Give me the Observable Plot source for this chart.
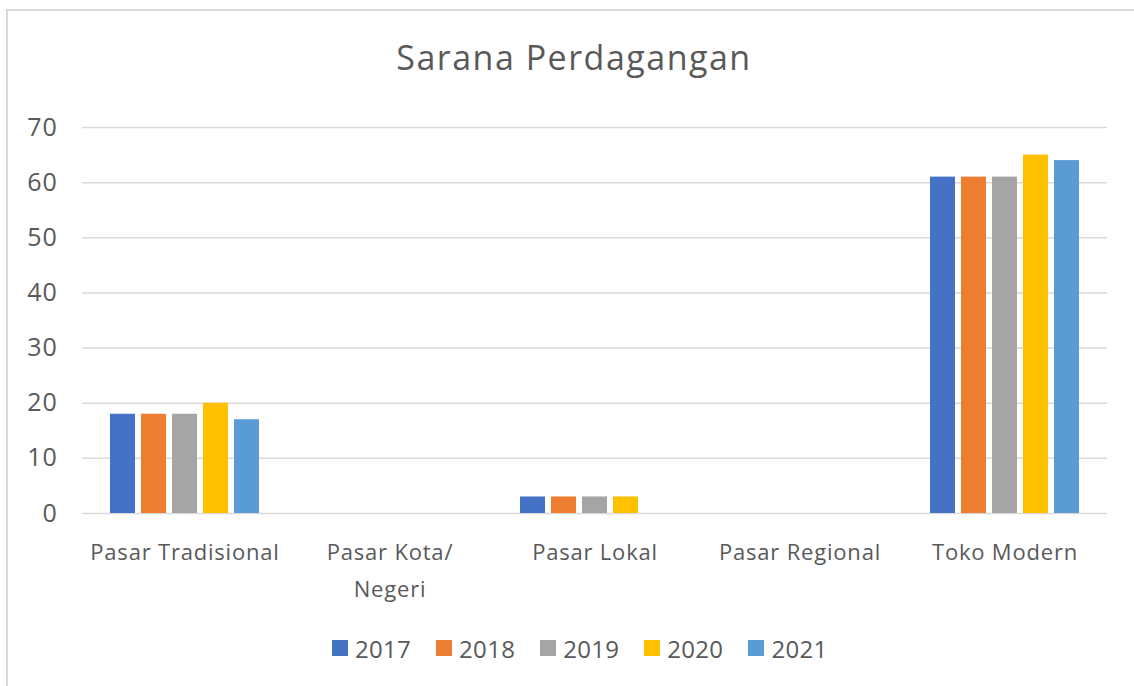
<!DOCTYPE html>
<html>
<head>
<meta charset="utf-8">
<script src="https://cdn.jsdelivr.net/npm/d3@7"></script>
<script src="https://cdn.jsdelivr.net/npm/@observablehq/plot@0.6"></script>
<style>
  html, body { margin: 0; padding: 0; background: #fff; overflow: hidden; }
  body { width: 1134px; height: 686px; position: relative; font-family: "Open Sans", sans-serif; color: #595959; }
  #frame { position: absolute; left: 6px; top: 9px; width: 1200px; height: 800px; border: 2px solid #d9d9d9; box-sizing: border-box; }
  #title { position: absolute; left: 0; width: 1148px; top: 34px; text-align: center; font-size: 34px; letter-spacing: 1.5px; line-height: 46px; color: #595959; }
  #chart { position: absolute; left: 0; top: 0; }
  #legend { position: absolute; top: 630px; left: 332px; display: flex; align-items: center; height: 36px; }
  .item { display: flex; align-items: center; margin-right: 25px; font-size: 24px; letter-spacing: 0.3px; color: #595959; }
  .sw { width: 16px; height: 16px; margin-right: 7px; }
</style>
</head>
<body>
<div id="frame"></div>
<div id="title">Sarana Perdagangan</div>
<div id="chart"></div>
<div id="legend"></div>
<script>
const categories = ["Pasar Tradisional", "Pasar Kota/ Negeri", "Pasar Lokal", "Pasar Regional", "Toko Modern"];
const categoryLabels = ["Pasar Tradisional", "Pasar Kota/\nNegeri", "Pasar Lokal", "Pasar Regional", "Toko Modern"];
const years = ["2017", "2018", "2019", "2020", "2021"];
const colors = ["#4472C4", "#ED7D31", "#A5A5A5", "#FFC000", "#5B9BD5"];
const v2017 = [18, 0, 3, 0, 61];
const v2018 = [18, 0, 3, 0, 61];
const v2019 = [18, 0, 3, 0, 61];
const v2020 = [20, 0, 3, 0, 65];
const v2021 = [17, 0, 0, 0, 64];
const yTicks = [0, 10, 20, 30, 40, 50, 60, 70];

const series = [v2017, v2018, v2019, v2020, v2021];
const data = [];
categories.forEach((c, i) => {
  years.forEach((y, j) => {
    data.push({category: c, year: y, value: series[j][i]});
  });
});
const labelOf = new Map(categories.map((c, i) => [c, categoryLabels[i]]));

const chart = Plot.plot({
  width: 1134,
  height: 620,
  marginLeft: 80,
  marginRight: 25,
  marginTop: 127,
  marginBottom: 107,
  style: {fontFamily: "Open Sans, sans-serif", color: "#595959", background: "transparent"},
  fx: {domain: categories, padding: 0, label: null},
  x: {domain: years, paddingInner: 0.19, paddingOuter: 0.84, axis: null},
  y: {domain: [0, 70], label: null},
  color: {domain: years, range: colors},
  marks: [
    Plot.gridY(yTicks, {stroke: "#d9d9d9", strokeOpacity: 1, strokeWidth: 1.5}),
    Plot.barY(data, {fx: "category", x: "year", y: "value", fill: "year"}),
    Plot.axisY(yTicks, {facetAnchor: "left", tickSize: 0, tickPadding: 25, fontSize: 25, fill: "#595959", label: null}),
    Plot.axisFx({anchor: "bottom", tickSize: 0, tickPadding: 20, fontSize: 22, lineHeight: 1.7, fill: "#595959", label: null, tickFormat: d => labelOf.get(d)})
  ]
});
chart.style.letterSpacing = "0.8px";
document.getElementById("chart").appendChild(chart);

const legend = document.getElementById("legend");
years.forEach((y, i) => {
  const it = document.createElement("div");
  it.className = "item";
  const sw = document.createElement("div");
  sw.className = "sw";
  sw.style.background = colors[i];
  const t = document.createElement("span");
  t.textContent = y;
  it.appendChild(sw);
  it.appendChild(t);
  legend.appendChild(it);
});
</script>
</body>
</html>
